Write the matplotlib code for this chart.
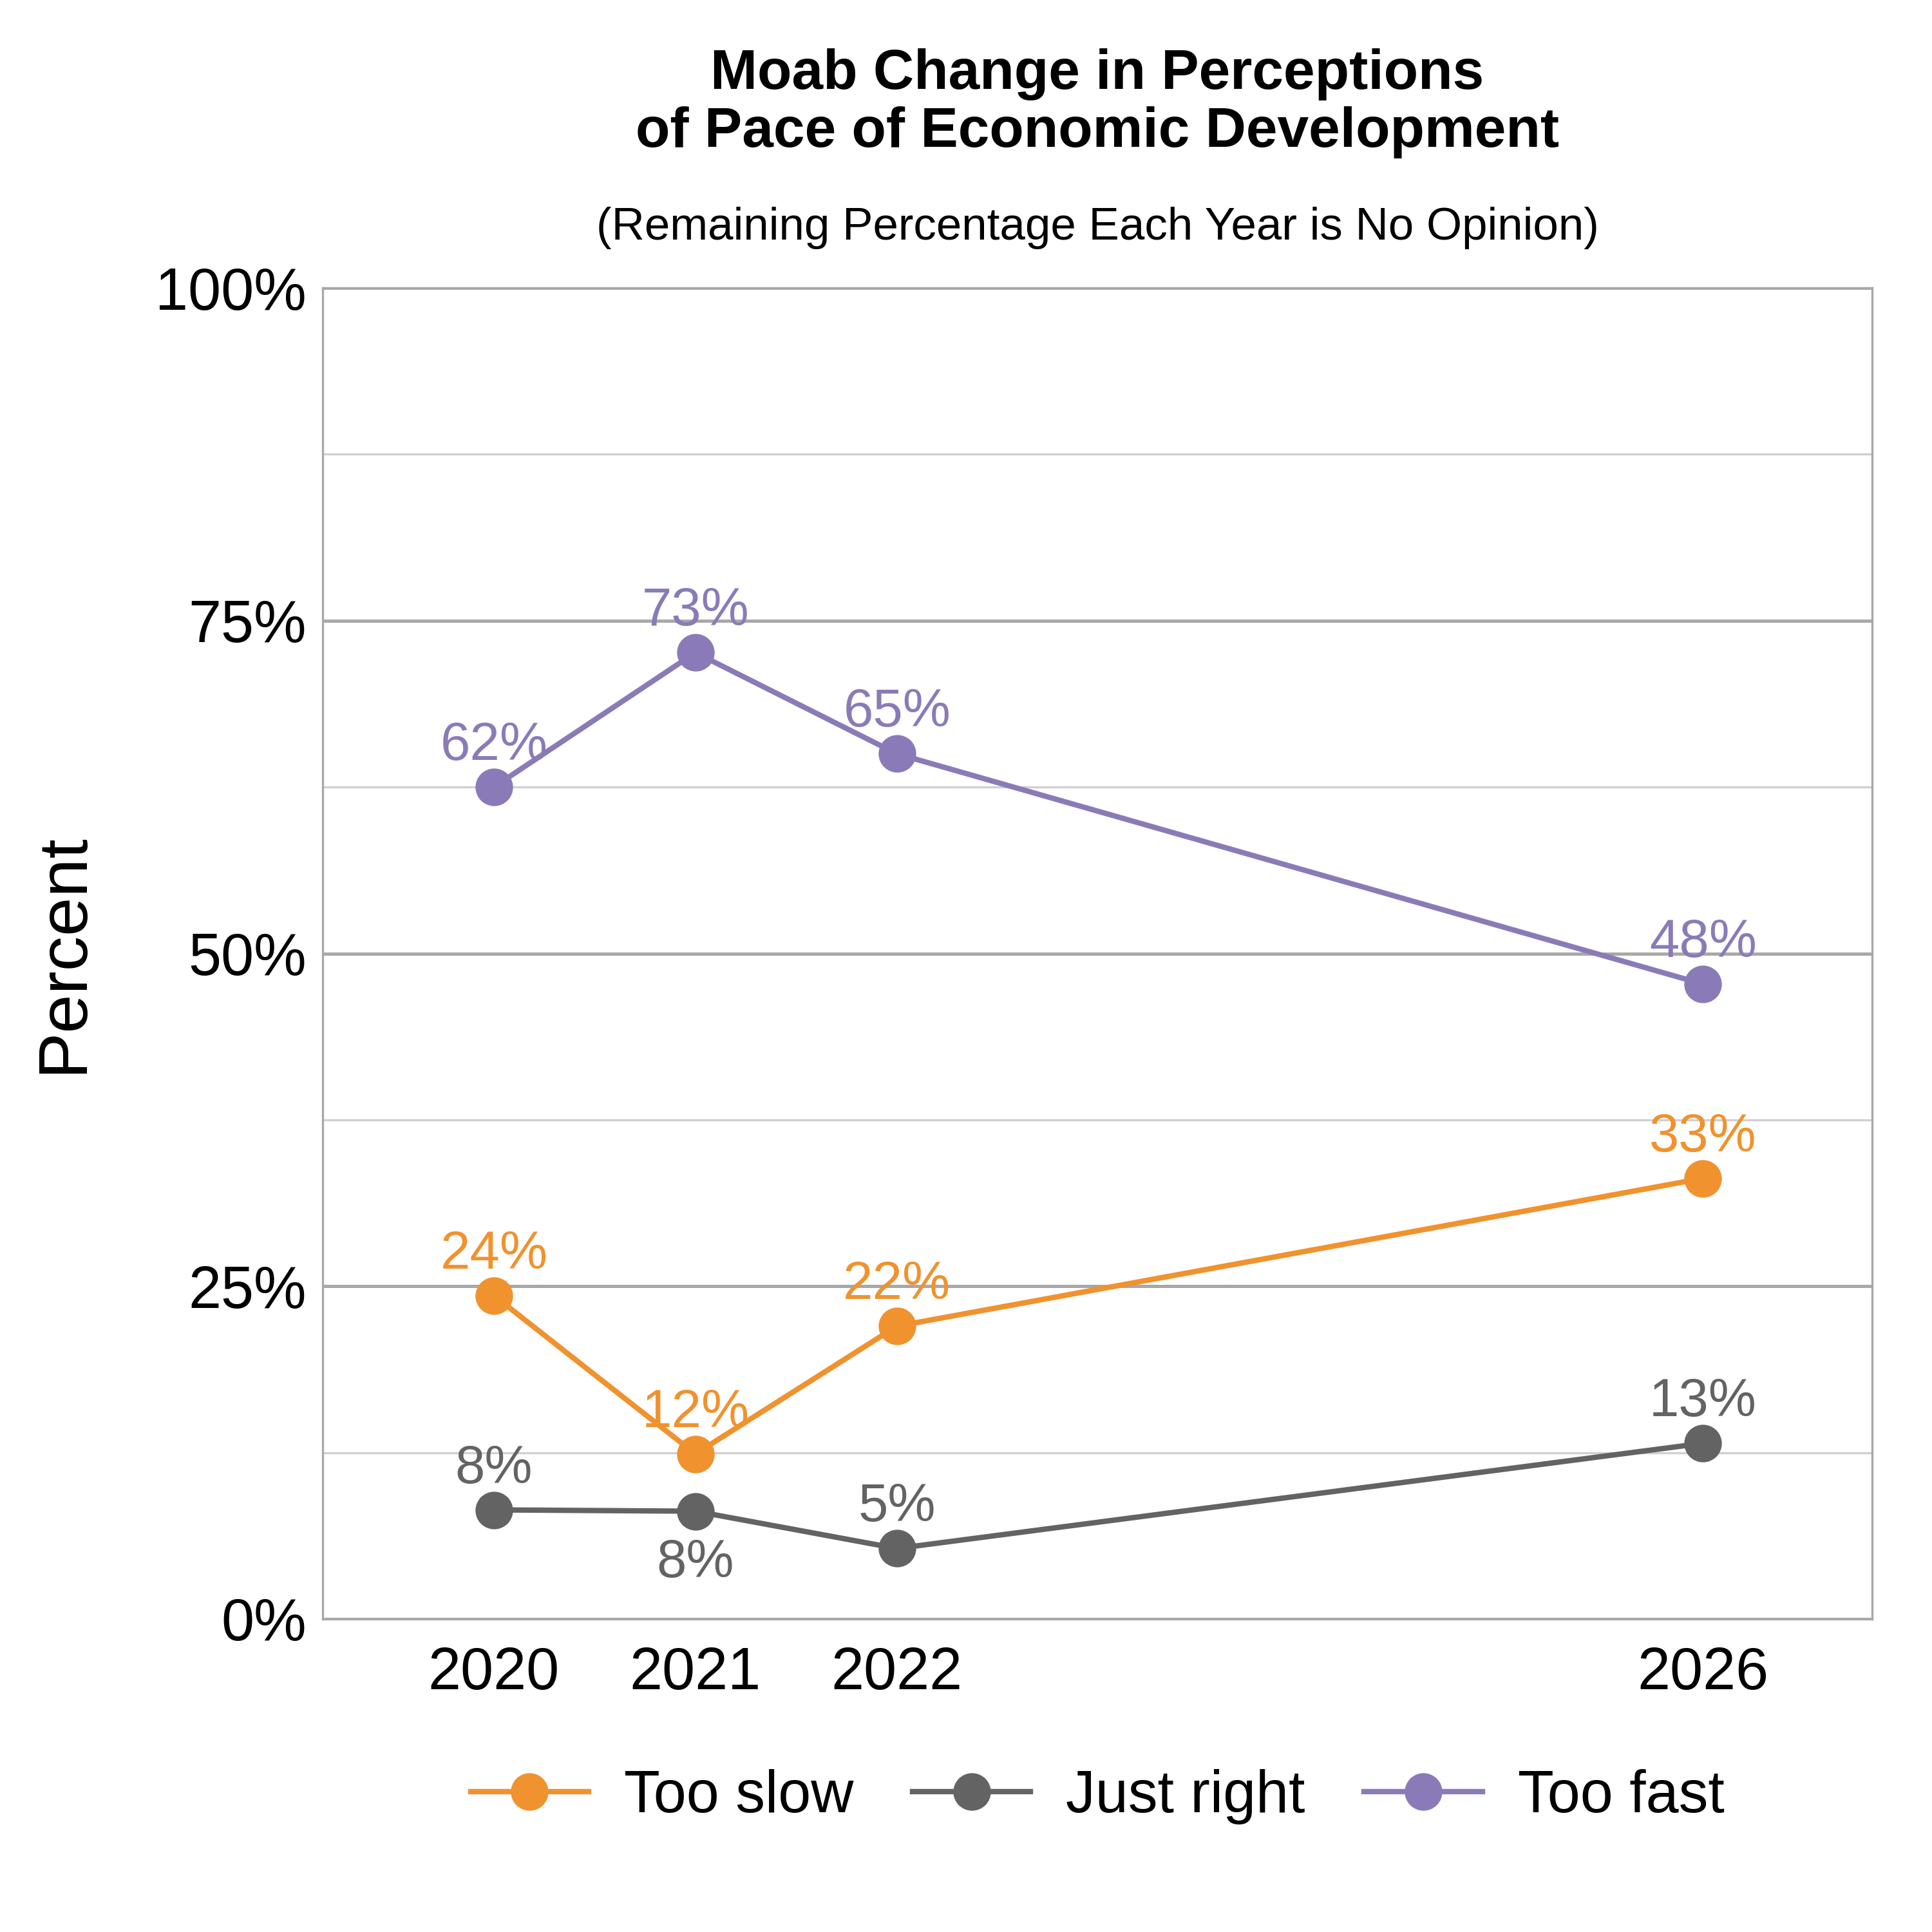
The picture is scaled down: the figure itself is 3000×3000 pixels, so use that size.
import matplotlib
matplotlib.use("Agg")
import matplotlib.pyplot as plt
from matplotlib.ticker import MultipleLocator, FuncFormatter

plt.rcParams['font.family'] = ['Liberation Sans', 'DejaVu Sans']

years = [2020, 2021, 2022, 2026]
too_slow = [24.3, 12.4, 22.0, 33.1]
just_right = [8.2, 8.1, 5.3, 13.2]
too_fast = [62.5, 72.6, 65.0, 47.7]
series = [("Too slow", too_slow, "#F0922E"),
          ("Just right", just_right, "#636363"),
          ("Too fast", too_fast, "#8A7BB8")]

fig = plt.figure(figsize=(10, 10), dpi=300)
ax = fig.add_axes([0.167, 0.162, 0.802, 0.689])

for name, vals, c in series:
    ax.plot(years, vals, '-o', color=c, lw=2, markersize=13, label=name, zorder=3)
    for i, (x, v) in enumerate(zip(years, vals)):
        below = (name == "Just right" and x == 2021)
        ax.annotate(f"{round(v):.0f}%", (x, v), xytext=(0, -10 if below else 6),
                    textcoords='offset points', ha='center',
                    va='top' if below else 'bottom', color=c, fontsize=20)

ax.set_xlim(2019.15, 2026.84)
ax.set_ylim(0, 100)
ax.set_xticks(years)
ax.yaxis.set_major_locator(MultipleLocator(25))
ax.yaxis.set_minor_locator(MultipleLocator(12.5))
ax.yaxis.set_major_formatter(FuncFormatter(lambda v, p: f"{v:.0f}%"))
ax.grid(axis='y', which='major', color='#A8A8A8', lw=1.2)
ax.grid(axis='y', which='minor', color='#D0D0D0', lw=0.8)
ax.set_axisbelow(True)
for s in ax.spines.values():
    s.set_color('#A8A8A8')
ax.tick_params(axis='both', which='both', length=0, labelsize=22, pad=6)
ax.tick_params(axis='x', pad=10)
ax.set_ylabel("Percent", fontsize=26, labelpad=22)

fig.text(0.568, 0.975, "Moab Change in Perceptions\nof Pace of Economic Development",
         ha='center', va='top', fontsize=21, fontweight='bold', linespacing=1.15)
fig.text(0.568, 0.882, "(Remaining Percentage Each Year is No Opinion)",
         ha='center', va='center', fontsize=17)

fig.legend(loc='center', bbox_to_anchor=(0.568, 0.07), ncol=3, frameon=False,
           fontsize=22, handlelength=2, columnspacing=1.0, handletextpad=0.6)

fig.savefig("out.png", dpi=300, facecolor='white')
